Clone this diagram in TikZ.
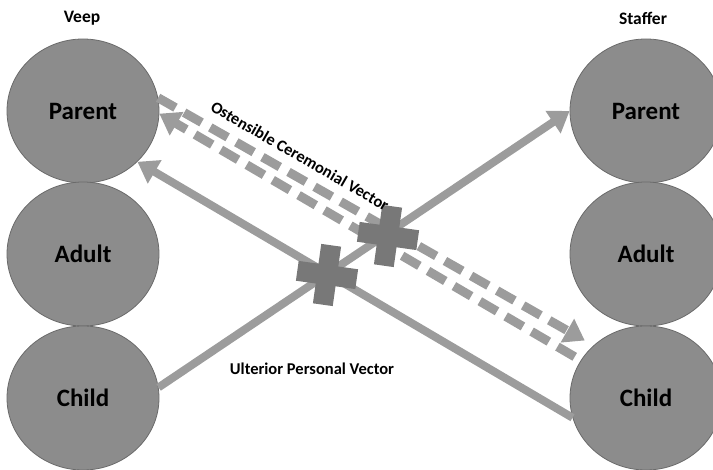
\documentclass[tikz,border=0pt]{standalone}
\usepackage{fontspec}
\setmainfont{Carlito}
\usetikzlibrary{arrows.meta,shapes.geometric}
\definecolor{ballgray}{HTML}{8C8C8C}
\definecolor{balledge}{HTML}{6A6A6A}
\definecolor{vecgray}{HTML}{9C9C9C}
\definecolor{crossgray}{HTML}{787878}

\begin{document}
\begin{tikzpicture}[x=1pt,y=-1pt,
  ego/.style={ellipse, draw=balledge, line width=0.8pt, fill=ballgray,
    minimum width=152pt, minimum height=144pt, inner sep=0pt,
    font=\fontsize{25}{29}\selectfont\bfseries},
  role/.style={font=\fontsize{17.5}{21}\selectfont\bfseries},
  vlabel/.style={font=\fontsize{16.5}{20}\selectfont\bfseries},
  solidvec/.style={draw=vecgray, line width=8pt},
  dashvec/.style={draw=vecgray, line width=9pt, dash pattern=on 20pt off 10pt},
  tip/.style={-{Triangle[length=20pt,width=26pt]}},
]
\useasboundingbox (0,0) rectangle (713,470);

% ego states of both parties
\node[ego] (vp) at (83,111) {Parent};
\node[ego] (va) at (83,254) {Adult};
\node[ego] (vc) at (83,398) {Child};
\node[ego] (sp) at (646,111) {Parent};
\node[ego] (sa) at (646,254) {Adult};
\node[ego] (sc) at (646,398) {Child};

\node[role] (veep) at (82,18) {Veep};
\node[role] (staffer) at (643,18) {Staffer};

% ostensible (social) level
\draw[dashvec, tip, shorten >=10pt] (vp.10) -- (sc.135);
\draw[dashvec, tip, shorten <=7pt] (sc.150) -- (vp.-2);

% ulterior (psychological) level
\draw[solidvec, tip] (sc.195) -- (vp.-43);
\draw[solidvec, tip] (vc.8) -- (sp.180);

% crossings
\begin{scope}[shift={(327,275)}, rotate=-8]
  \fill[crossgray] (-30,-10) rectangle (30,10) (-10,-30) rectangle (10,30);
\end{scope}
\begin{scope}[shift={(388,236)}, rotate=-8]
  \fill[crossgray] (-30,-10) rectangle (30,10) (-10,-30) rectangle (10,30);
\end{scope}

\node[vlabel] (ulterior) at (312,369) {Ulterior Personal Vector};
\node[vlabel, rotate=-30] (ostensible) at (300,156) {Ostensible Ceremonial Vector};
\end{tikzpicture}
\end{document}
